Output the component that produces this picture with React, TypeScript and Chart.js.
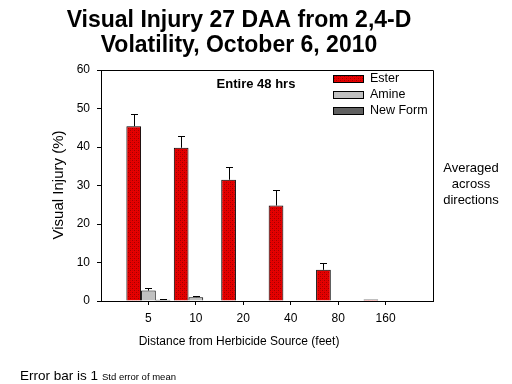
import React, { useEffect, useRef } from "react";
import { Chart, registerables } from "chart.js";

Chart.register(...registerables);

const categories = ["5", "10", "20", "40", "80", "160"];
const seriesNames = ["Ester", "Amine", "New Form"];
const esterValues = [45.4, 39.8, 31.5, 24.8, 8.1, 0.4];
const esterErrors = [3.3, 3.0, 3.4, 4.1, 1.9, 0];
const amineValues = [2.7, 1.0, 0, 0, 0, 0];
const amineErrors = [0.7, 0.4, 0, 0, 0, 0];
const newFormValues = [0.3, 0, 0, 0, 0, 0];
const newFormErrors = [0.15, 0, 0, 0, 0, 0];
const yTicks = [0, 10, 20, 30, 40, 50, 60];

const titleLines = ["Visual Injury 27 DAA from 2,4-D", "Volatility, October 6, 2010"];
const yTitle = "Visual Injury (%)";
const xTitle = "Distance from Herbicide Source (feet)";
const innerNote = "Entire 48 hrs";
const sideNote = ["Averaged", "across", "directions"];
const footA = "Error bar is 1";
const footB = "Std error of mean";

const FONT = 'Arial, "Liberation Sans", Helvetica, sans-serif';

function makePattern(): CanvasPattern | string {
  const c = document.createElement("canvas");
  c.width = 4;
  c.height = 4;
  const g = c.getContext("2d");
  if (!g) return "#d00000";
  g.fillStyle = "#e60000";
  g.fillRect(0, 0, 4, 4);
  g.fillStyle = "#a00000";
  g.fillRect(0, 0, 1, 1);
  g.fillRect(2, 2, 1, 1);
  g.fillStyle = "#cc0000";
  g.fillRect(2, 0, 1, 1);
  g.fillRect(0, 2, 1, 1);
  const p = g.createPattern(c, "repeat");
  return p || "#d00000";
}

export default function App() {
  const ref = useRef<HTMLCanvasElement | null>(null);

  useEffect(() => {
    if (!ref.current) return;
    const redFill = makePattern();
    const pad = (arr: number[]) => [null, ...arr, null];
    const labels = ["", ...categories, ""];
    const errs = [esterErrors, amineErrors, newFormErrors];
    const fills: any[] = [redFill, "#c0c0c0", "#606060"];

    const extras = {
      id: "extras",
      afterDatasetsDraw(chart: any) {
        const ctx = chart.ctx;
        const ys = chart.scales.y;
        const area = chart.chartArea;
        ctx.save();
        ctx.strokeStyle = "#000";
        ctx.lineWidth = 1;
        chart.data.datasets.forEach((ds: any, i: number) => {
          const meta = chart.getDatasetMeta(i);
          meta.data.forEach((el: any, j: number) => {
            const v = ds.data[j];
            if (v === null || v === undefined) return;
            const e = errs[i][j - 1];
            if (!e) return;
            const x = Math.round(el.x) + 0.5;
            const y0 = ys.getPixelForValue(v);
            const y1 = Math.round(ys.getPixelForValue(v + e)) + 0.5;
            ctx.beginPath();
            ctx.moveTo(x, y0);
            ctx.lineTo(x, y1);
            ctx.moveTo(x - 3.5, y1);
            ctx.lineTo(x + 3.5, y1);
            ctx.stroke();
          });
        });
        ctx.beginPath();
        ctx.moveTo(Math.round(area.left) + 0.5, Math.round(area.top) + 0.5);
        ctx.lineTo(Math.round(area.right) + 0.5, Math.round(area.top) + 0.5);
        ctx.lineTo(Math.round(area.right) + 0.5, Math.round(area.bottom) + 0.5);
        ctx.stroke();
        ctx.restore();
      },
      afterDraw(chart: any) {
        const ctx = chart.ctx;
        ctx.save();
        ctx.fillStyle = "#000";
        ctx.textBaseline = "middle";
        ctx.textAlign = "center";
        ctx.font = `bold 23px ${FONT}`;
        ctx.fillText(titleLines[0], 239, 21);
        ctx.fillText(titleLines[1], 239, 46);
        ctx.font = `bold 13px ${FONT}`;
        ctx.fillText(innerNote, 256, 84);
        ctx.font = `12px ${FONT}`;
        ctx.fillText(xTitle, 239, 342);
        ctx.save();
        ctx.translate(59, 185);
        ctx.rotate(-Math.PI / 2);
        ctx.font = `15px ${FONT}`;
        ctx.fillText(yTitle, 0, 0);
        ctx.restore();
        ctx.font = `13px ${FONT}`;
        sideNote.forEach((s, k) => ctx.fillText(s, 471, 168 + k * 16));
        ctx.textAlign = "left";
        ctx.font = `12.5px ${FONT}`;
        seriesNames.forEach((name, k) => {
          const cy = 79 + k * 16;
          ctx.fillStyle = fills[k];
          ctx.fillRect(333, cy - 3, 30, 7);
          ctx.strokeStyle = "#000";
          ctx.lineWidth = 1;
          ctx.strokeRect(333.5, cy - 3.5, 30, 7);
          ctx.fillStyle = "#000";
          ctx.fillText(name, 370, cy);
        });
        ctx.font = `13.5px ${FONT}`;
        ctx.fillText(footA, 20, 376);
        const w = ctx.measureText(footA).width;
        ctx.font = `9.5px ${FONT}`;
        ctx.fillText(footB, 20 + w + 4, 377);
        ctx.restore();
      },
    };

    const chart = new Chart(ref.current, {
      type: "bar",
      data: {
        labels,
        datasets: [
          { label: seriesNames[0], data: pad(esterValues), backgroundColor: redFill as any, borderColor: "#000", borderWidth: 1 },
          { label: seriesNames[1], data: pad(amineValues), backgroundColor: "#c0c0c0", borderColor: "#000", borderWidth: 1 },
          { label: seriesNames[2], data: pad(newFormValues), backgroundColor: "#606060", borderColor: "#000", borderWidth: 1 },
        ] as any,
      },
      options: {
        animation: false,
        responsive: false,
        maintainAspectRatio: false,
        devicePixelRatio: 1,
        layout: { padding: { left: 0, top: 70, right: 79, bottom: 0 } },
        datasets: { bar: { categoryPercentage: 0.93, barPercentage: 1.0 } },
        plugins: { legend: { display: false }, title: { display: false }, tooltip: { enabled: false } },
        scales: {
          x: {
            offset: false,
            grid: {
              offset: false,
              drawOnChartArea: false,
              drawTicks: true,
              tickLength: 4,
              color: (c: any) => (c.index === 0 || c.index === labels.length - 1 ? "rgba(0,0,0,0)" : "#000"),
            },
            border: { display: true, color: "#000", width: 1 },
            ticks: { color: "#000", font: { family: FONT, size: 12 }, padding: 6, maxRotation: 0, autoSkip: false },
            afterFit: (s: any) => {
              s.height = 83;
            },
          },
          y: {
            min: 0,
            max: 60,
            afterBuildTicks: (s: any) => {
              s.ticks = yTicks.map((v) => ({ value: v }));
            },
            grid: { drawOnChartArea: false, drawTicks: true, tickLength: 4, color: "#000" },
            border: { display: true, color: "#000", width: 1 },
            ticks: { color: "#000", font: { family: FONT, size: 12 }, padding: 7 },
            afterFit: (s: any) => {
              s.width = 101;
            },
          },
        },
      },
      plugins: [extras],
    });
    return () => chart.destroy();
  }, []);

  return (
    <div style={{ position: "fixed", left: 0, top: 0, width: 512, height: 384, background: "#fff" }}>
      <canvas ref={ref} width={512} height={384} style={{ display: "block" }} />
    </div>
  );
}
